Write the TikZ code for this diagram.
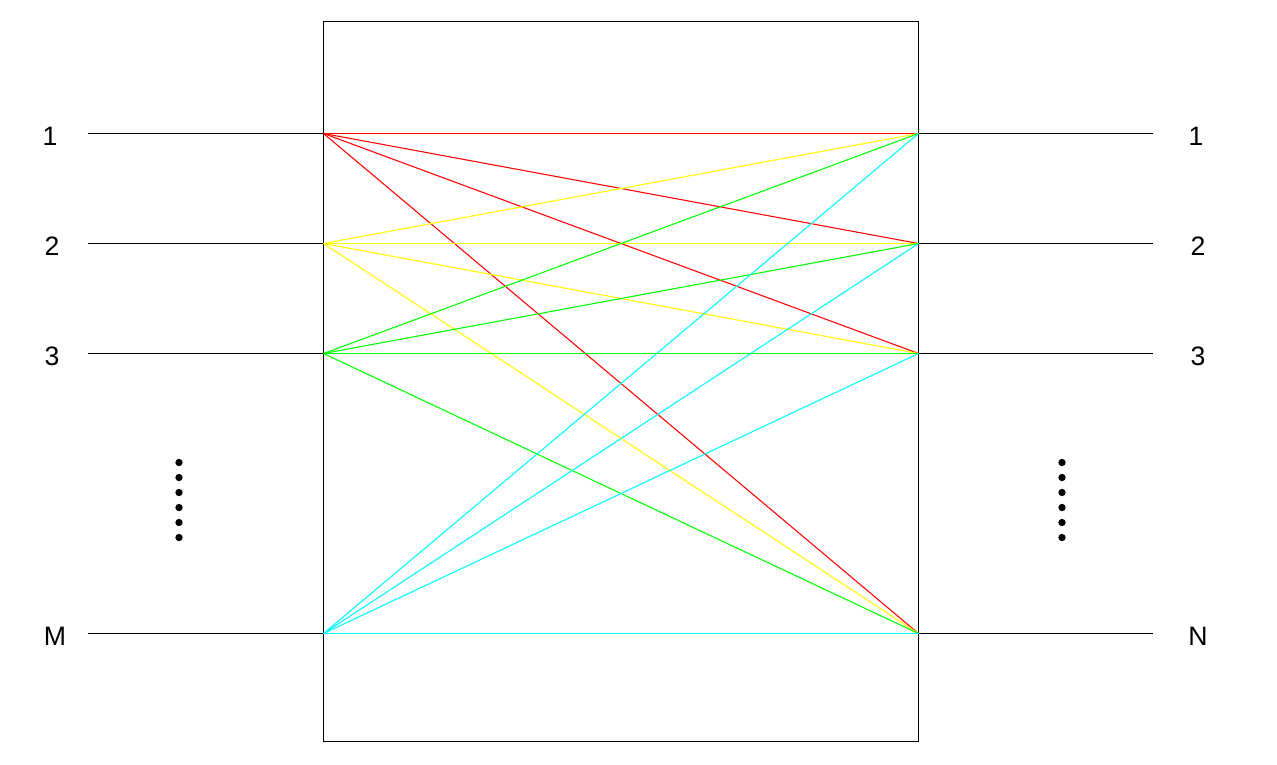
\documentclass[tikz,border=0pt]{standalone}
\usepackage{fontspec}
\setmainfont{Liberation Sans}
\definecolor{cRed}{RGB}{255,0,0}
\definecolor{cYel}{RGB}{255,255,0}
\definecolor{cGrn}{RGB}{0,255,0}
\definecolor{cCya}{RGB}{0,255,255}
\begin{document}
\begin{tikzpicture}[x=0.75pt,y=-0.75pt,
  wire/.style={line width=0.8pt,black},
  link/.style={line width=0.8pt},
  flat/.style={line width=1pt},
  lbl/.style={font=\fontsize{20}{22}\selectfont,inner sep=0pt},
  dot/.style={circle,fill=black,inner sep=0pt,minimum size=5.5pt}]
\useasboundingbox (0,0) rectangle (1277,764);
\node[draw,line width=0.75pt,minimum width=595*0.75pt,minimum height=720*0.75pt,inner sep=0pt] (box) at (621,381.5) {};
% ports
\foreach \n/\y in {1/133.5,2/243.5,3/353.5,4/633.5}{
  \coordinate (L\n) at (323.5,\y);
  \coordinate (R\n) at (918.5,\y);
  \coordinate (LE\n) at (88,\y);
  \coordinate (RE\n) at (1153,\y);
  \draw[wire] (LE\n) -- (L\n);
  \draw[wire] (R\n) -- (RE\n);
}
\node[lbl] (l1) at (50,136) {1};
\node[lbl] (l2) at (52,246) {2};
\node[lbl] (l3) at (52,356) {3};
\node[lbl] (l4) at (55,636) {M};
\node[lbl] (r1) at (1196,136) {1};
\node[lbl] (r2) at (1198,246) {2};
\node[lbl] (r3) at (1198,356) {3};
\node[lbl] (r4) at (1198,636) {N};
\foreach \k in {0,...,5}{
  \node[dot] (dl\k) at (179,462.5+15*\k) {};
  \node[dot] (dr\k) at (1062,462.5+15*\k) {};
}
% connections
\foreach \c [count=\i] in {cRed,cYel,cGrn,cCya}{
  \foreach \j in {1,...,4}{
    \ifnum\i=\j
      \draw[flat,\c] (L\i) -- (R\j);
    \else
      \draw[link,\c] (L\i) -- (R\j);
    \fi
  }
}
\end{tikzpicture}
\end{document}
